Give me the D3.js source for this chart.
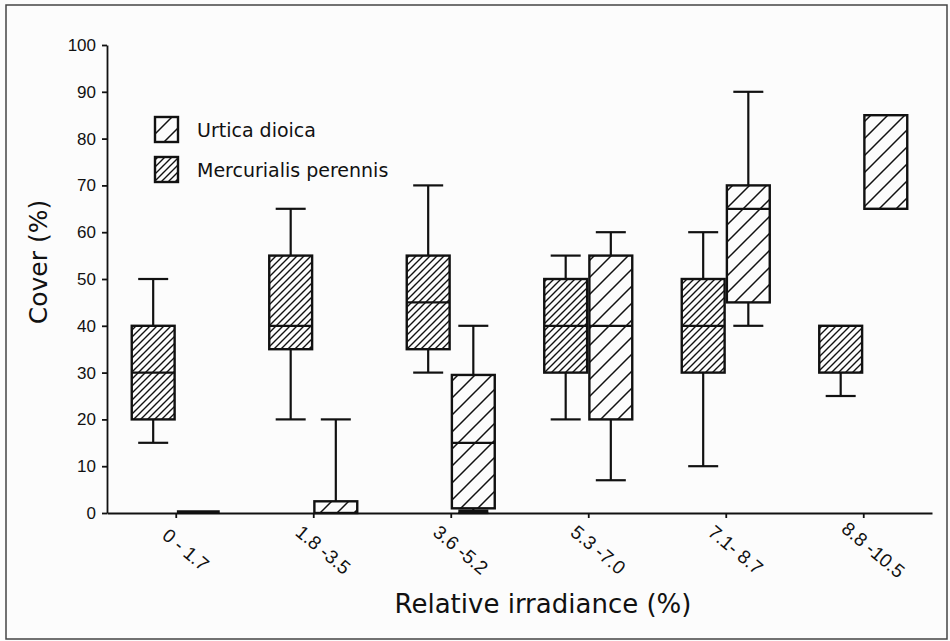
<!DOCTYPE html>
<html>
<head>
<meta charset="utf-8">
<script src="https://cdn.jsdelivr.net/npm/d3@7/dist/d3.min.js"></script>
<style>
  body { margin: 0; background: #fcfcfc; }
  svg { display: block; }
</style>
</head>
<body>
<script>
// categories (relative irradiance classes)
var categories = ["0-1.7", "1.8-3.5", "3.6-5.2", "5.3-7.0", "7.1-8.7", "8.8-10.5"];
var catLabels = ["0 - 1.7", "1.8 -3.5", "3.6 -5.2", "5.3 -7.0", "7.1- 8.7", "8.8 -10.5"];
var yTicks = [0, 10, 20, 30, 40, 50, 60, 70, 80, 90, 100];

// Mercurialis perennis
var mercMin = [15, 20, 30, 20, 10, 25];
var mercQ1  = [20, 35, 35, 30, 30, 30];
var mercMed = [30, 40, 45, 40, 40, null];
var mercQ3  = [40, 55, 55, 50, 50, 40];
var mercMax = [50, 65, 70, 55, 60, null];

// Urtica dioica
var urtMin = [0, 0, 0, 7, 40, null];
var urtQ1  = [0, 0, 1, 20, 45, 65];
var urtMed = [null, null, 15, 40, 65, null];
var urtQ3  = [0, 2.5, 29.5, 55, 70, 85];
var urtMax = [0, 20, 40, 60, 90, null];

var width = 950, height = 641;

var svg = d3.select("body").append("svg").attr("width", width).attr("height", height);

// hatch patterns
var defs = svg.append("defs");
function hatch(id, s, sw) {
  defs.append("pattern").attr("id", id)
      .attr("patternUnits", "userSpaceOnUse")
      .attr("width", s).attr("height", s)
    .append("path")
      .attr("d", "M0," + s + " L" + s + ",0 M" + (-s/2) + "," + (s/2) + " L" + (s/2) + "," + (-s/2) + " M" + (s/2) + "," + (s*1.5) + " L" + (s*1.5) + "," + (s/2))
      .attr("stroke", "#111").attr("stroke-width", sw);
}
hatch("hatchMerc", 7, 1.4);
hatch("hatchUrt", 17, 1.5);

// outer frame
svg.append("rect").attr("x", 6).attr("y", 5).attr("width", 941).attr("height", 634)
    .attr("fill", "none").attr("stroke", "#444").attr("stroke-width", 1.5);

var y = d3.scaleLinear().domain([0, 100]).range([513, 45]);
var x = d3.scalePoint().domain(categories).range([107, 932]).padding(0.5);
var series = d3.scaleBand().domain(["merc", "urt"]).range([-44, 44]).paddingInner(0.05);

var yAxis = d3.axisLeft(y).tickValues(yTicks).tickSize(5).tickSizeOuter(0);
var xAxis = d3.axisBottom(x).tickSize(5).tickSizeOuter(0).tickFormat(function(d, i){ return ""; });

var gy = svg.append("g").attr("transform", "translate(107,0)").call(yAxis);
gy.selectAll("text").attr("font-family", "Liberation Sans, Arial, sans-serif")
    .attr("font-size", 17).attr("fill", "#111").attr("x", -11);
var gx = svg.append("g").attr("transform", "translate(0,513)").call(xAxis);
svg.selectAll(".domain, .tick line").attr("stroke", "#111").attr("stroke-width", 1.8);

// rotated category labels
svg.append("g").selectAll("text").data(categories).enter().append("text")
    .attr("transform", function(d){ return "translate(" + (x(d) + 9) + ",551) rotate(40)"; })
    .attr("text-anchor", "middle").attr("dominant-baseline", "middle")
    .attr("font-family", "Liberation Sans, Arial, sans-serif").attr("font-size", 19).attr("fill", "#111")
    .text(function(d, i){ return catLabels[i]; });

// build box records
var boxes = [];
categories.forEach(function(c, i){
  boxes.push({cat: c, s: "merc", min: mercMin[i], q1: mercQ1[i], med: mercMed[i], q3: mercQ3[i], max: mercMax[i]});
  boxes.push({cat: c, s: "urt", min: urtMin[i], q1: urtQ1[i], med: urtMed[i], q3: urtQ3[i], max: urtMax[i]});
});

var bw = series.bandwidth();
var capW = 30;
var g = svg.append("g");

boxes.forEach(function(b){
  var x0 = x(b.cat) + series(b.s);
  var cx = x0 + bw / 2;
  var line = function(x1, y1, x2, y2, w){
    g.append("line").attr("x1", x1).attr("y1", y1).attr("x2", x2).attr("y2", y2)
      .attr("stroke", "#111").attr("stroke-width", w || 2.2);
  };
  if (b.max != null && b.max > b.q3) {
    line(cx, y(b.max), cx, y(b.q3));
    line(cx - capW/2, y(b.max), cx + capW/2, y(b.max));
  }
  if (b.min != null && b.min < b.q1) {
    line(cx, y(b.min), cx, y(b.q1));
    line(cx - capW/2, y(b.min), cx + capW/2, y(b.min));
    // very short lower whisker shows as a solid blob
    if (b.q1 - b.min < 2) line(cx - capW/2, y(b.min) - 1.5, cx + capW/2, y(b.min) - 1.5, 4);
  }
  if (b.q3 > b.q1) {
    g.append("rect").attr("x", x0).attr("y", y(b.q3)).attr("width", bw)
      .attr("height", y(b.q1) - y(b.q3))
      .attr("fill", b.s == "merc" ? "url(#hatchMerc)" : "url(#hatchUrt)")
      .attr("stroke", "#111").attr("stroke-width", 2.4);
  } else {
    // collapsed box: a thick line
    line(x0, y(b.q3) - 1, x0 + bw, y(b.q3) - 1, 3.5);
  }
  if (b.med != null) line(x0, y(b.med), x0 + bw, y(b.med));
});

// legend
var legendItems = [
  {label: "Urtica dioica", fill: "url(#hatchUrt)", yy: 117},
  {label: "Mercurialis perennis", fill: "url(#hatchMerc)", yy: 157}
];
var lg = svg.append("g");
legendItems.forEach(function(d){
  lg.append("rect").attr("x", 155).attr("y", d.yy).attr("width", 23).attr("height", 25)
    .attr("fill", d.fill).attr("stroke", "#111").attr("stroke-width", 2.4);
  lg.append("text").attr("x", 197).attr("y", d.yy + 20)
    .attr("font-family", "DejaVu Sans, sans-serif").attr("font-size", 19).attr("fill", "#111")
    .text(d.label);
});

// axis titles
svg.append("text").attr("x", 543).attr("y", 613).attr("text-anchor", "middle")
    .attr("font-family", "DejaVu Sans, sans-serif").attr("font-size", 26).attr("fill", "#111")
    .text("Relative irradiance (%)");
svg.append("text").attr("transform", "translate(47,262) rotate(-90)").attr("text-anchor", "middle")
    .attr("font-family", "DejaVu Sans, sans-serif").attr("font-size", 25).attr("fill", "#111")
    .text("Cover (%)");
</script>
</body>
</html>
